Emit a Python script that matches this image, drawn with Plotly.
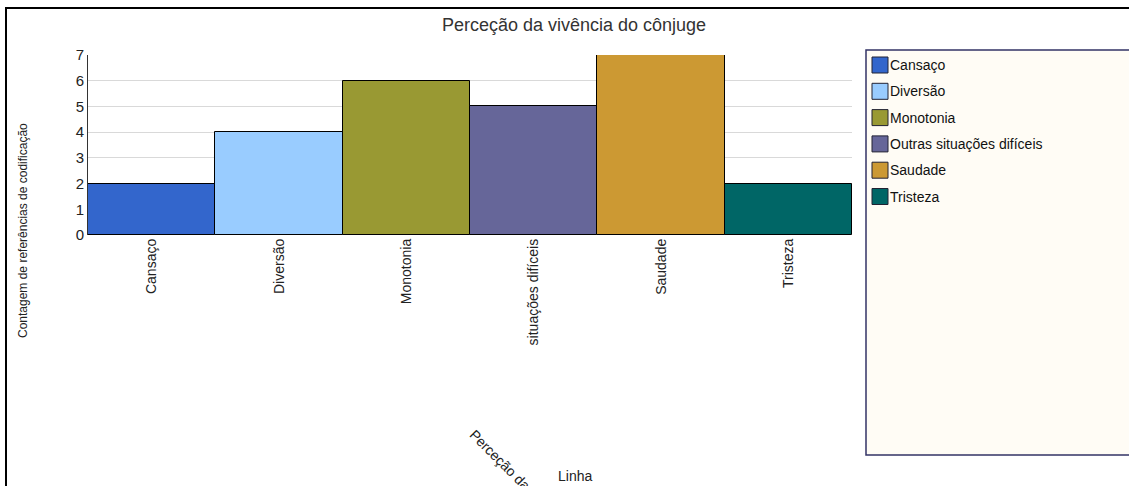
import plotly.graph_objects as go

categories = ["Cansaço", "Diversão", "Monotonia", "Outras situações difíceis", "Saudade", "Tristeza"]
tick_labels = ["Cansaço", "Diversão", "Monotonia", "situações difíceis", "Saudade", "Tristeza"]
values = [2, 4, 6, 5, 7, 2]
colors = ["#3366CC", "#99CCFF", "#999933", "#666699", "#CC9933", "#006666"]
y_ticks = [0, 1, 2, 3, 4, 5, 6, 7]

title = "Perceção da vivência do cônjuge"
y_title = "Contagem de referências de codificação"

W, H = 1129, 486
L, R, T, B = 88, 277, 55, 251
pw, ph = W - L - R, H - T - B

def px(x):
    return (x - L) / pw

def py(y):
    return (H - B - y) / ph

FONT = "Arial, Liberation Sans, sans-serif"

fig = go.Figure()
for cat, v, c in zip(categories, values, colors):
    fig.add_trace(go.Bar(x=[cat], y=[v], name=cat, marker=dict(color=c, line=dict(color="#000000", width=1)),
                         showlegend=False))

shapes = []
annotations = []
# outer frame
shapes.append(dict(type="rect", xref="paper", yref="paper", x0=px(6), x1=px(1200), y0=py(600), y1=py(8),
                   line=dict(color="#000000", width=2), fillcolor="rgba(0,0,0,0)", layer="below"))
# legend box
shapes.append(dict(type="rect", xref="paper", yref="paper", x0=px(866), x1=px(1160), y0=py(455), y1=py(50),
                   line=dict(color="#333366", width=1.5), fillcolor="#FFFCF5", layer="below"))
# legend items
for i, (cat, c) in enumerate(zip(categories, colors)):
    cy = 65 + i * 26.3
    shapes.append(dict(type="rect", xref="paper", yref="paper", x0=px(872), x1=px(888), y0=py(cy + 8), y1=py(cy - 8),
                       line=dict(color="#222233", width=1), fillcolor=c))
    annotations.append(dict(text=cat, xref="paper", yref="paper", x=px(888.5), y=py(cy), xanchor="left",
                            yanchor="middle", showarrow=False, font=dict(family=FONT, size=14, color="#111111")))

annotations.append(dict(text=y_title, xref="paper", yref="paper", x=px(23), y=py(231), textangle=-90,
                        showarrow=False, xanchor="center", yanchor="middle",
                        font=dict(family=FONT, size=12, color="#222222")))
annotations.append(dict(text=title, xref="paper", yref="paper", x=px(545), y=py(505), textangle=45,
                        showarrow=False, xanchor="center", yanchor="middle",
                        font=dict(family=FONT, size=14, color="#222222")))
annotations.append(dict(text="Linha", xref="paper", yref="paper", x=px(575), y=py(476),
                        showarrow=False, xanchor="center", yanchor="middle",
                        font=dict(family=FONT, size=14, color="#222222")))

fig.update_layout(
    width=W, height=H,
    margin=dict(l=L, r=R, t=T, b=B, autoexpand=False),
    paper_bgcolor="#FFFFFF", plot_bgcolor="#FFFFFF",
    barmode="overlay", bargap=0,
    title=dict(text=title, xref="container", x=574 / W, y=1 - 25 / H, xanchor="center", yanchor="middle",
               font=dict(family=FONT, size=18, color="#333333")),
    font=dict(family=FONT, size=14, color="#222222"),
    xaxis=dict(type="category", categoryorder="array", categoryarray=categories,
               tickmode="array", tickvals=categories, ticktext=tick_labels, tickangle=-90,
               showgrid=False, showline=False, ticks="", zeroline=False,
               tickfont=dict(family=FONT, size=14, color="#222222")),
    yaxis=dict(range=[0, 7], tickmode="array", tickvals=y_ticks, showgrid=True, gridcolor="#D9D9D9",
               gridwidth=1, showline=True, linecolor="#333333", linewidth=1, ticks="", zeroline=False,
               tickfont=dict(family=FONT, size=15, color="#222222")),
    shapes=shapes, annotations=annotations,
)

fig.write_html("out.html", config={"displayModeBar": False},
               post_script="document.body.style.margin='0';document.body.style.overflow='hidden';")
